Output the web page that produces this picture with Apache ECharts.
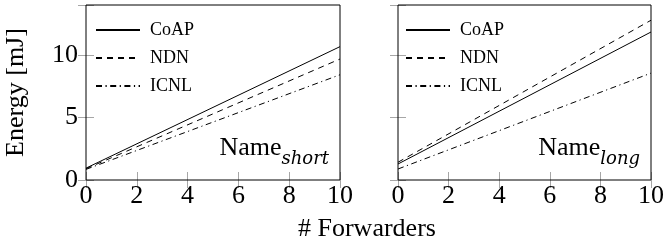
<!DOCTYPE html>
<html>
<head>
<meta charset="utf-8">
<script src="https://cdn.jsdelivr.net/npm/echarts@6/dist/echarts.min.js"></script>
<style>
html,body{margin:0;padding:0;background:#fff;}
#chart{width:667px;height:244px;}
</style>
</head>
<body>
<div id="chart"></div>
<script>
// ---- data ----
const forwarders = [0, 10];
const xTicks = [0, 2, 4, 6, 8, 10];
const yTicks = [0, 5, 10];
const seriesNames = ['CoAP', 'NDN', 'ICNL'];
const shortCoAP = [0.95, 10.67];
const shortNDN  = [0.90, 9.68];
const shortICNL = [0.85, 8.42];
const longCoAP  = [1.28, 11.84];
const longNDN   = [1.42, 12.78];
const longICNL  = [0.88, 8.55];
const panelNames = [['Name', 'short'], ['Name', 'long']];
const xTitle = '# Forwarders';
const yTitle = 'Energy [mJ]';

const SERIF = '"Liberation Serif", "Times New Roman", serif';
const lineTypes = {
  CoAP: 'solid',
  NDN: [6, 5],
  ICNL: [6, 3.5, 1.2, 3.5]
};

function pts(xs, ys) { return xs.map((x, i) => [x, ys[i]]); }

const grids = [
  {left: 86, right: 327, top: 5, bottom: 64},
  {left: 398, right: 14, top: 5, bottom: 64}
];

const tickStyle = {show: true, inside: true, length: 8, lineStyle: {color: '#a6a6a6', width: 1}};

const xAxes = [], yAxes = [];
grids.forEach((g, gi) => {
  xAxes.push({
    type: 'value', gridIndex: gi, position: 'bottom', min: xTicks[0], max: xTicks[xTicks.length - 1], interval: 2,
    axisLine: {show: false}, splitLine: {show: false}, axisTick: tickStyle,
    axisLabel: {show: true, margin: 3, fontSize: 26, fontFamily: SERIF, color: '#000'}
  });
  xAxes.push({
    type: 'value', gridIndex: gi, position: 'top', min: xTicks[0], max: xTicks[xTicks.length - 1], interval: 2,
    axisLine: {show: false}, splitLine: {show: false}, axisTick: tickStyle,
    axisLabel: {show: false}
  });
  yAxes.push({
    type: 'value', gridIndex: gi, position: 'left', min: 0, max: 14, interval: 5,
    axisLine: {show: false}, splitLine: {show: false}, axisTick: tickStyle,
    axisLabel: {show: gi === 0, margin: 8, fontSize: 26, fontFamily: SERIF, color: '#000',
      formatter: v => (yTicks.indexOf(v) >= 0 ? String(v) : '')},
    name: gi === 0 ? yTitle : '', nameLocation: 'middle', nameGap: 57, nameRotate: 90,
    nameTextStyle: {fontSize: 26, fontFamily: SERIF, color: '#000'}
  });
  yAxes.push({
    type: 'value', gridIndex: gi, position: 'right', min: 0, max: 14, interval: 5,
    axisLine: {show: false}, splitLine: {show: false}, axisTick: tickStyle,
    axisLabel: {show: false}
  });
});

const panelData = [
  {CoAP: shortCoAP, NDN: shortNDN, ICNL: shortICNL},
  {CoAP: longCoAP, NDN: longNDN, ICNL: longICNL}
];

const series = [];
panelData.forEach((pd, pi) => {
  seriesNames.forEach(n => {
    series.push({
      name: n, type: 'line', xAxisIndex: pi * 2, yAxisIndex: pi * 2,
      data: pts(forwarders, pd[n]), symbol: 'none', silent: true,
      lineStyle: {color: '#000', width: 1, type: lineTypes[n]},
      itemStyle: {color: '#000'}
    });
  });
});

function legendFor(left) {
  return {
    data: seriesNames, orient: 'vertical', left: left, top: 21, itemWidth: 44, itemHeight: 14, itemGap: 10,
    selectedMode: false, padding: 0,
    itemStyle: {opacity: 0, borderWidth: 0},
    textStyle: {fontSize: 18, fontFamily: SERIF, color: '#000', padding: [0, 0, 0, 5], lineHeight: 18}
  };
}

function nameTitle(pn, right) {
  return {
    text: '{a|' + pn[0] + '}{b|' + pn[1] + '}', right: right, top: 128, padding: 0,
    textStyle: {
      fontWeight: 'normal',
      rich: {
        a: {fontSize: 26, fontFamily: SERIF, fontWeight: 'normal', color: '#000', lineHeight: 40, verticalAlign: 'middle'},
        b: {fontSize: 18, fontFamily: '"DejaVu Serif", serif', fontStyle: 'italic', fontWeight: 'normal', color: '#000',
            lineHeight: 18, padding: [22, 0, 0, 0], verticalAlign: 'middle'}
      }
    }
  };
}

const option = {
  animation: false,
  backgroundColor: '#fff',
  grid: grids.map(g => Object.assign({show: true, borderColor: '#000', borderWidth: 1, backgroundColor: 'transparent', z: 5}, g)),
  xAxis: xAxes,
  yAxis: yAxes,
  legend: [legendFor(95), legendFor(405)],
  title: [
    nameTitle(panelNames[0], 338),
    nameTitle(panelNames[1], 27),
    {text: xTitle, left: 298, top: 214, padding: 0,
     textStyle: {fontSize: 26, fontFamily: SERIF, color: '#000', fontWeight: 'normal', lineHeight: 30}}
  ],
  series: series
};

const chart = echarts.init(document.getElementById('chart'), null, {renderer: 'canvas'});
chart.setOption(option);
</script>
</body>
</html>
